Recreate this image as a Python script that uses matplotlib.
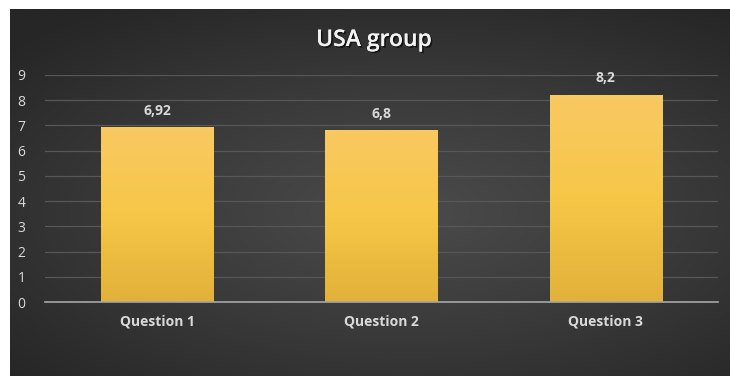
import numpy as np
import matplotlib.pyplot as plt
import matplotlib.patheffects as pe
from matplotlib.colors import LinearSegmentedColormap

categories = ["Question 1", "Question 2", "Question 3"]
scores = [6.92, 6.8, 8.2]
score_labels = ["6,92", "6,8", "8,2"]
yticks = list(range(0, 10))

W, H = 730, 376
fig = plt.figure(figsize=(W / 100, H / 100), dpi=100)
fig.patch.set_facecolor("white")

# dark chart area with a soft radial gradient
bg = fig.add_axes([10 / W, 0, 1 - 10 / W, 1 - 9 / H])
yy, xx = np.mgrid[-1:1:200j, -1:1:400j]
r = np.sqrt(((xx - 0.1) * 0.9) ** 2 + ((yy - 0.1) * 1.0) ** 2)
bg_cmap = LinearSegmentedColormap.from_list("bg", ["#4b4b4b", "#3a3a3a", "#262626"])
bg.imshow(r, cmap=bg_cmap, aspect="auto", extent=[0, 1, 0, 1], vmin=0, vmax=1.35)
bg.set_axis_off()

# title with a slight drop shadow
fig.text(374 / W, 1 - 40 / H, "USA group", ha="center", va="center",
         fontsize=16.5, fontweight="semibold", color="#f2f2f2", family="Open Sans",
         path_effects=[pe.withSimplePatchShadow(offset=(1.2, -1.2), shadow_rgbFace="black", alpha=0.6),
                       pe.Normal()])

ax = fig.add_axes([45 / W, 74 / H, (718 - 45) / W, 227 / H])
ax.patch.set_alpha(0)
x = np.arange(len(categories))
bars = ax.bar(x, scores, width=0.5, color="#f4c44e", zorder=3)

# vertical gold gradient clipped to each bar
bar_cmap = LinearSegmentedColormap.from_list("bar", ["#e2b13a", "#f6c747", "#f9c962"])
grad = np.linspace(0, 1, 100).reshape(-1, 1)
for b in bars:
    x0, w, h = b.get_x(), b.get_width(), b.get_height()
    im = ax.imshow(grad, cmap=bar_cmap, origin="lower", aspect="auto",
                   extent=[x0, x0 + w, 0, h], zorder=4)
    im.set_clip_path(b)

for xi, v, lab in zip(x, scores, score_labels):
    ax.annotate(lab, (xi, v), xytext=(0, 7), textcoords="offset points",
                ha="center", va="bottom", fontsize=10, fontweight="bold",
                color="#d9d9d9", family="Open Sans")

ax.set_xlim(-0.5, len(categories) - 0.5)
ax.set_ylim(0, 9)
ax.set_yticks(yticks)
ax.set_yticklabels([str(t) for t in yticks], fontsize=10, color="#d9d9d9", family="Open Sans")
ax.set_xticks(x)
ax.set_xticklabels(categories, fontsize=10, fontweight="bold", color="#d9d9d9", family="Open Sans")
ax.tick_params(length=0, axis="y", pad=14)
ax.tick_params(length=0, axis="x", pad=9)
ax.yaxis.grid(True, color="#575757", linewidth=0.9, zorder=0)
for s in ["top", "right", "left"]:
    ax.spines[s].set_visible(False)
ax.spines["bottom"].set_color("#a6a6a6")
ax.spines["bottom"].set_linewidth(1.2)
ax.spines["bottom"].set_zorder(5)

fig.savefig("out.png", dpi=100, facecolor=fig.get_facecolor())
